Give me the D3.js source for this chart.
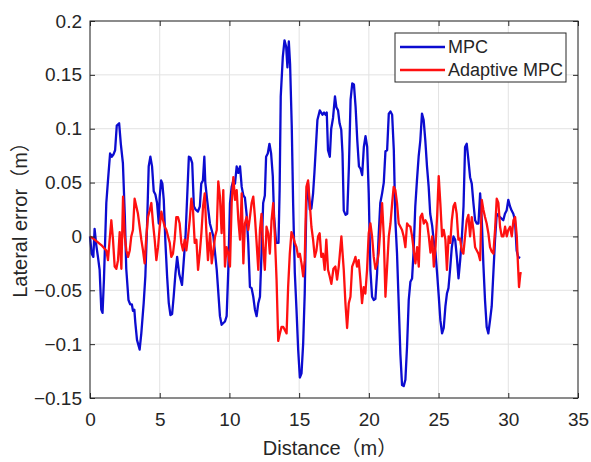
<!DOCTYPE html>
<html>
<head>
<meta charset="utf-8">
<script src="https://cdnjs.cloudflare.com/ajax/libs/d3/7.8.5/d3.min.js"></script>
<style>
body { margin: 0; background: #fff; }
text { font-family: "Liberation Sans", Arial, "Noto Sans CJK SC", sans-serif; fill: #262626; }
</style>
</head>
<body>
<script>
// lateral error of plain MPC, [distance (m), error (m)]
var mpcData = [[0,0],[0.12,-0.016],[0.24,-0.019],[0.33,0.007],[0.45,-0.008],[0.57,-0.019],[0.69,-0.031],[0.81,-0.068],[0.9,-0.071],[1.0,-0.04],[1.17,0.031],[1.29,0.052],[1.44,0.077],[1.56,0.074],[1.68,0.076],[1.8,0.08],[1.92,0.103],[2.09,0.105],[2.21,0.086],[2.36,0.068],[2.5,0.018],[2.6,-0.03],[2.76,-0.059],[2.88,-0.063],[3.0,-0.063],[3.08,-0.069],[3.18,-0.068],[3.25,-0.08],[3.37,-0.096],[3.56,-0.105],[3.68,-0.09],[3.85,-0.062],[3.97,-0.037],[4.09,0.009],[4.21,0.065],[4.33,0.074],[4.45,0.065],[4.57,0.042],[4.69,0.039],[4.81,0.031],[4.93,0.012],[5.0,0.037],[5.1,0.052],[5.19,0.049],[5.29,0.034],[5.41,-0.006],[5.53,-0.037],[5.65,-0.062],[5.77,-0.073],[5.89,-0.072],[6.0,-0.056],[6.13,-0.034],[6.25,-0.019],[6.4,-0.035],[6.6,-0.045],[6.85,0.0],[7.09,0.074],[7.21,0.073],[7.33,0.068],[7.45,0.028],[7.57,0.025],[7.74,0.023],[7.88,0.028],[7.98,0.049],[8.1,0.052],[8.2,0.074],[8.27,0.05],[8.4,0.034],[8.6,0.012],[8.85,0.0],[9.09,-0.031],[9.32,-0.074],[9.44,-0.082],[9.68,-0.079],[9.8,-0.074],[9.92,-0.031],[10.04,0.031],[10.16,0.046],[10.28,0.052],[10.4,0.049],[10.52,0.065],[10.64,0.059],[10.76,0.065],[10.88,0.046],[11.0,0.038],[11.11,0.036],[11.23,0.021],[11.35,-0.006],[11.47,-0.047],[11.59,-0.048],[11.71,-0.056],[11.83,-0.068],[11.95,-0.074],[12.07,-0.062],[12.19,-0.056],[12.3,-0.016],[12.42,0.031],[12.54,0.038],[12.63,0.074],[12.75,0.077],[12.87,0.086],[12.99,0.077],[13.11,0.056],[13.2,0.019],[13.35,-0.006],[13.52,-0.006],[13.6,0.043],[13.68,0.13],[13.83,0.167],[13.95,0.182],[14.07,0.176],[14.16,0.157],[14.26,0.181],[14.35,0.16],[14.47,0.102],[14.57,0.03],[14.69,-0.034],[14.81,-0.068],[14.93,-0.105],[15.05,-0.131],[15.17,-0.127],[15.29,-0.099],[15.4,-0.053],[15.52,0.031],[15.64,0.049],[15.76,0.025],[15.88,0.026],[16.0,0.04],[16.1,0.06],[16.31,0.108],[16.48,0.117],[16.67,0.113],[16.79,0.115],[16.9,0.113],[16.98,0.115],[17.07,0.08],[17.2,0.074],[17.3,0.1],[17.43,0.11],[17.57,0.13],[17.67,0.12],[17.79,0.117],[17.9,0.105],[18.02,0.099],[18.11,0.077],[18.2,0.024],[18.33,0.02],[18.45,0.021],[18.57,0.065],[18.69,0.127],[18.81,0.142],[18.93,0.141],[19.05,0.12],[19.17,0.089],[19.29,0.065],[19.4,0.063],[19.52,0.057],[19.64,0.083],[19.76,0.093],[19.88,0.083],[19.99,0.04],[20.11,-0.031],[20.23,-0.056],[20.35,-0.059],[20.47,-0.058],[20.59,-0.034],[20.7,0.0],[20.82,0.031],[20.95,0.04],[21.07,0.05],[21.19,0.079],[21.31,0.08],[21.43,0.114],[21.55,0.116],[21.67,0.113],[21.79,0.08],[21.9,0.015],[22.02,-0.016],[22.14,-0.062],[22.26,-0.109],[22.38,-0.138],[22.5,-0.139],[22.62,-0.133],[22.74,-0.102],[22.86,-0.059],[22.98,-0.042],[23.1,-0.039],[23.2,-0.016],[23.33,0.028],[23.45,0.052],[23.57,0.074],[23.69,0.089],[23.81,0.114],[23.93,0.108],[24.05,0.089],[24.17,0.065],[24.29,0.046],[24.4,0.021],[24.54,0.01],[24.66,-0.005],[24.78,-0.015],[24.9,-0.035],[25.01,-0.055],[25.13,-0.078],[25.25,-0.09],[25.37,-0.085],[25.49,-0.065],[25.6,-0.053],[25.71,-0.048],[25.83,-0.03],[25.95,-0.01],[26.07,0.0],[26.19,-0.003],[26.31,-0.019],[26.43,-0.039],[26.55,-0.022],[26.67,-0.001],[26.79,0.028],[26.9,0.083],[27.02,0.086],[27.14,0.071],[27.26,0.055],[27.38,0.049],[27.5,0.031],[27.62,0.015],[27.74,0.012],[27.86,0.012],[27.98,0.04],[28.1,0.015],[28.21,-0.025],[28.33,-0.059],[28.45,-0.084],[28.57,-0.09],[28.69,-0.078],[28.81,-0.065],[28.93,-0.034],[29.05,-0.003],[29.17,0.021],[29.4,0.018],[29.64,0.015],[29.76,0.021],[29.88,0.024],[30.0,0.034],[30.12,0.028],[30.24,0.024],[30.36,0.021],[30.48,0.015],[30.6,-0.013],[30.71,-0.019],[30.85,-0.02]];

// lateral error of adaptive MPC, [distance (m), error (m)]
var adaptiveData = [[0,0],[0.33,-0.003],[0.81,-0.008],[1.17,-0.013],[1.29,-0.022],[1.41,-0.003],[1.53,0.015],[1.65,-0.003],[1.77,-0.028],[1.89,-0.03],[2.01,-0.022],[2.13,0.004],[2.25,-0.03],[2.37,0.037],[2.49,0.0],[2.61,-0.013],[2.73,-0.019],[2.85,-0.013],[2.96,0.0],[3.08,0.006],[3.2,0.035],[3.32,0.028],[3.44,0.021],[3.56,0.009],[3.68,-0.003],[3.8,-0.013],[3.92,-0.025],[4.04,0.0],[4.16,0.018],[4.28,0.024],[4.4,0.031],[4.52,0.012],[4.64,-0.003],[4.76,-0.022],[4.88,-0.01],[5.0,0.009],[5.12,0.023],[5.24,0.015],[5.36,0.009],[5.48,0.006],[5.6,0.0],[5.72,-0.006],[5.83,-0.019],[5.95,-0.016],[6.07,-0.003],[6.19,0.018],[6.31,0.018],[6.43,0.012],[6.55,-0.006],[6.67,-0.013],[6.79,-0.003],[6.91,-0.013],[7.03,0.0],[7.15,0.015],[7.27,0.035],[7.39,0.024],[7.51,-0.006],[7.63,-0.003],[7.75,-0.031],[7.87,-0.016],[7.99,0.003],[8.11,0.028],[8.23,0.04],[8.34,0.006],[8.46,-0.022],[8.61,0.003],[8.73,-0.025],[8.85,-0.013],[8.97,0.0],[9.09,0.006],[9.2,0.051],[9.32,0.037],[9.44,0.003],[9.56,0.043],[9.68,-0.028],[9.8,-0.01],[9.92,-0.016],[10.04,-0.028],[10.16,0.031],[10.28,0.055],[10.4,0.034],[10.52,0.043],[10.64,0.015],[10.76,-0.003],[10.88,0.04],[11.0,-0.025],[11.11,0.012],[11.23,0.018],[11.35,0.006],[11.47,0.018],[11.59,0.031],[11.71,0.037],[11.83,0.018],[11.95,-0.006],[12.07,-0.031],[12.19,0.006],[12.3,0.021],[12.42,-0.01],[12.54,-0.031],[12.66,0.009],[12.78,0.003],[12.9,-0.016],[13.02,0.015],[13.14,0.031],[13.26,0.0],[13.38,-0.04],[13.5,-0.097],[13.62,-0.09],[13.74,-0.084],[13.86,-0.084],[13.98,-0.087],[14.1,-0.09],[14.21,-0.047],[14.33,-0.016],[14.45,0.004],[14.57,0.0],[14.69,-0.006],[14.81,-0.01],[14.93,-0.019],[15.05,-0.016],[15.17,-0.025],[15.29,-0.037],[15.4,-0.022],[15.52,0.046],[15.64,0.052],[15.76,0.031],[15.88,0.009],[16.0,-0.003],[16.12,-0.019],[16.24,-0.013],[16.36,0.0],[16.47,0.003],[16.59,-0.019],[16.71,-0.016],[16.83,-0.031],[16.95,-0.003],[17.07,-0.031],[17.19,-0.037],[17.31,-0.044],[17.46,-0.03],[17.6,-0.028],[17.72,-0.04],[17.84,-0.028],[18.03,0.0],[18.2,-0.031],[18.32,-0.062],[18.44,-0.085],[18.56,-0.062],[18.68,-0.056],[18.8,-0.028],[18.92,-0.024],[19.04,-0.019],[19.15,-0.028],[19.27,-0.022],[19.39,-0.04],[19.51,-0.062],[19.63,-0.047],[19.75,-0.053],[19.87,-0.031],[19.99,0.003],[20.11,0.012],[20.23,0.0],[20.35,-0.019],[20.47,-0.03],[20.59,-0.025],[20.7,-0.016],[20.82,0.006],[20.95,0.031],[21.07,0.0],[21.19,-0.056],[21.31,-0.028],[21.43,0.0],[21.55,0.012],[21.67,0.031],[21.78,0.046],[21.9,0.043],[22.02,0.031],[22.14,0.012],[22.26,0.009],[22.38,0.006],[22.5,0.0],[22.62,-0.01],[22.74,0.012],[22.86,0.01],[22.98,0.009],[23.1,0.0],[23.22,-0.013],[23.34,-0.025],[23.46,-0.01],[23.58,-0.028],[23.7,0.018],[23.82,0.021],[23.94,0.012],[24.06,0.015],[24.18,0.012],[24.3,0.0],[24.42,-0.015],[24.54,0.0],[24.66,-0.028],[24.78,-0.01],[24.9,0.02],[25.01,0.056],[25.13,0.03],[25.25,0.0],[25.37,0.006],[25.49,-0.003],[25.6,-0.031],[25.72,0.0],[25.84,-0.006],[25.95,0.015],[26.07,0.028],[26.18,0.031],[26.3,0.021],[26.42,-0.003],[26.54,-0.002],[26.66,-0.013],[26.78,-0.016],[26.9,0.0],[27.02,0.015],[27.14,0.02],[27.26,0.0],[27.38,0.018],[27.5,0.006],[27.62,-0.01],[27.74,-0.013],[27.86,-0.016],[27.98,-0.022],[28.1,0.034],[28.21,0.025],[28.33,0.018],[28.45,0.012],[28.57,0.003],[28.69,-0.01],[28.81,-0.014],[28.93,-0.016],[29.05,0.006],[29.17,0.035],[29.29,0.031],[29.41,0.009],[29.53,0.0],[29.65,0.0],[29.77,0.009],[29.89,0.0],[30.0,0.006],[30.13,0.009],[30.25,0.0],[30.37,0.015],[30.49,0.018],[30.61,0.0],[30.68,-0.022],[30.77,-0.047],[30.87,-0.034],[30.96,-0.034]];

var seriesNames = ["MPC", "Adaptive MPC"];
var seriesColours = ["#0c0cd0", "#ff1010"];

var xTicks = [0, 5, 10, 15, 20, 25, 30, 35];
var yTicks = [-0.15, -0.1, -0.05, 0, 0.05, 0.1, 0.15, 0.2];
var yTickLabels = ["\u22120.15", "\u22120.1", "\u22120.05", "0", "0.05", "0.1", "0.15", "0.2"];

// dimensions
var width = 591;
var height = 462;
var plot = { left: 90, top: 21, right: 578, bottom: 398 };

var svg = d3.select("body")
    .append("svg")
    .attr("width", width)
    .attr("height", height);

svg.append("rect")
    .attr("width", width)
    .attr("height", height)
    .attr("fill", "#fff");

var x = d3.scaleLinear().domain([0, 35]).range([plot.left, plot.right]);
var y = d3.scaleLinear().domain([-0.15, 0.2]).range([plot.bottom, plot.top]);

// grid lines
svg.append("g")
    .selectAll("line")
    .data(xTicks)
    .enter().append("line")
    .attr("x1", function(d) { return x(d); })
    .attr("x2", function(d) { return x(d); })
    .attr("y1", plot.top)
    .attr("y2", plot.bottom)
    .attr("stroke", "#e2e2e2")
    .attr("stroke-width", 1);

svg.append("g")
    .selectAll("line")
    .data(yTicks)
    .enter().append("line")
    .attr("x1", plot.left)
    .attr("x2", plot.right)
    .attr("y1", function(d) { return y(d); })
    .attr("y2", function(d) { return y(d); })
    .attr("stroke", "#e2e2e2")
    .attr("stroke-width", 1);

// the two error curves, MPC drawn first so adaptive sits on top
var line = d3.line()
    .x(function(d) { return x(d[0]); })
    .y(function(d) { return y(d[1]); });

[mpcData, adaptiveData].forEach(function(series, i) {
    svg.append("path")
        .datum(series)
        .attr("d", line)
        .attr("fill", "none")
        .attr("stroke", seriesColours[i])
        .attr("stroke-width", 2.3)
        .attr("stroke-linejoin", "round");
});

// axes, ticks pointing inwards like matlab
function styleAxis(g) {
    g.select(".domain").remove();
    g.selectAll(".tick line").attr("stroke", "#262626");
    g.selectAll("text")
        .attr("fill", "#262626")
        .style("font-size", "19px");
}

svg.append("g")
    .attr("transform", "translate(0," + plot.bottom + ")")
    .call(d3.axisBottom(x).tickValues(xTicks).tickSizeInner(-5).tickSizeOuter(0).tickPadding(15))
    .call(styleAxis);

svg.append("g")
    .attr("transform", "translate(0," + plot.top + ")")
    .call(d3.axisTop(x).tickValues(xTicks).tickSizeInner(-5).tickSizeOuter(0).tickFormat(""))
    .call(styleAxis);

svg.append("g")
    .attr("transform", "translate(" + plot.left + ",0)")
    .call(d3.axisLeft(y).tickValues(yTicks).tickSizeInner(-5).tickSizeOuter(0).tickPadding(8)
        .tickFormat(function(d, i) { return yTickLabels[i]; }))
    .call(styleAxis);

svg.append("g")
    .attr("transform", "translate(" + plot.right + ",0)")
    .call(d3.axisRight(y).tickValues(yTicks).tickSizeInner(-5).tickSizeOuter(0).tickFormat(""))
    .call(styleAxis);

// box round the plot
svg.append("rect")
    .attr("x", plot.left)
    .attr("y", plot.top)
    .attr("width", plot.right - plot.left)
    .attr("height", plot.bottom - plot.top)
    .attr("fill", "none")
    .attr("stroke", "#262626")
    .attr("stroke-width", 1);

// axis titles
svg.append("text")
    .attr("x", 330)
    .attr("y", 455)
    .attr("text-anchor", "middle")
    .style("font-size", "20px")
    .text("Distance（m）");

svg.append("text")
    .attr("transform", "translate(27,215) rotate(-90)")
    .attr("text-anchor", "middle")
    .style("font-size", "20px")
    .text("Lateral error（m）");

// legend
var legend = svg.append("g");

legend.append("rect")
    .attr("x", 395)
    .attr("y", 33)
    .attr("width", 171)
    .attr("height", 49)
    .attr("fill", "#fff")
    .attr("stroke", "#262626")
    .attr("stroke-width", 1);

var entry = legend.selectAll(".entry")
    .data(seriesNames)
    .enter().append("g")
    .attr("transform", function(d, i) { return "translate(0," + (47 + i * 23) + ")"; });

entry.append("line")
    .attr("x1", 400)
    .attr("x2", 445)
    .attr("stroke", function(d, i) { return seriesColours[i]; })
    .attr("stroke-width", 2.3);

entry.append("text")
    .attr("x", 448)
    .attr("dy", "0.35em")
    .style("font-size", "18px")
    .text(function(d) { return d; });
</script>
</body>
</html>
